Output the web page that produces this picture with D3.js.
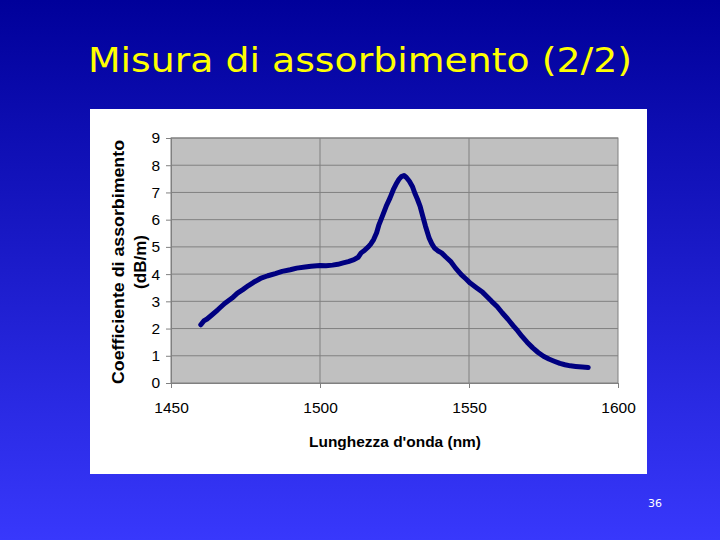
<!DOCTYPE html>
<html><head><meta charset="utf-8">
<script src="https://cdn.jsdelivr.net/npm/d3@7"></script>
<style>html,body{margin:0;padding:0;overflow:hidden;}svg{display:block;}</style>
</head><body>
<svg id="c" width="720" height="540"></svg>
<script>
const wavelength = [1460.0,1461.0,1462.1,1463.5,1465.7,1468.0,1470.5,1472.3,1474.1,1476.0,1477.7,1480.0,1482.5,1485.0,1487.3,1490.0,1492.2,1495.0,1497.0,1500.0,1502.0,1504.2,1506.0,1507.8,1509.5,1511.4,1512.8,1513.8,1515.0,1516.2,1517.0,1518.0,1519.0,1519.8,1521.0,1522.2,1523.5,1524.6,1525.5,1526.4,1527.3,1528.2,1529.0,1530.0,1531.0,1531.8,1532.7,1533.6,1534.5,1535.4,1536.0,1536.6,1537.5,1538.4,1539.5,1540.8,1542.3,1543.8,1545.5,1547.4,1549.0,1550.4,1552.5,1554.6,1556.0,1557.6,1559.5,1561.2,1563.0,1564.8,1566.3,1567.8,1569.5,1571.4,1573.2,1575.0,1576.8,1578.6,1580.5,1582.2,1584.0,1585.8,1588.0,1590.0];
const absorption = [2.14,2.28,2.35,2.48,2.69,2.92,3.12,3.30,3.43,3.58,3.70,3.84,3.94,4.02,4.10,4.16,4.22,4.26,4.29,4.32,4.31,4.33,4.36,4.41,4.46,4.53,4.62,4.78,4.88,5.00,5.10,5.27,5.52,5.82,6.15,6.49,6.80,7.10,7.30,7.47,7.58,7.62,7.55,7.41,7.22,6.98,6.75,6.49,6.12,5.76,5.55,5.33,5.12,4.96,4.86,4.78,4.62,4.47,4.22,3.98,3.82,3.67,3.50,3.33,3.18,3.00,2.80,2.57,2.35,2.11,1.92,1.71,1.50,1.29,1.12,0.98,0.88,0.80,0.72,0.67,0.63,0.61,0.59,0.57];
const xTicks = [1450,1500,1550,1600];
const yTicks = [0,1,2,3,4,5,6,7,8,9];
const title = "Misura di assorbimento (2/2)";
const xTitle = "Lunghezza d'onda (nm)";
const yTitle = ["Coefficiente di assorbimento","(dB/m)"];
const pageNo = "36";

const svg = d3.select("#c");
const defs = svg.append("defs");
const g = defs.append("linearGradient").attr("id","bg").attr("x1",0).attr("y1",0).attr("x2",0).attr("y2",1);
g.append("stop").attr("offset","0%").attr("stop-color","#00009a");
g.append("stop").attr("offset","100%").attr("stop-color","#3838fc");
svg.append("rect").attr("width",720).attr("height",540).attr("fill","url(#bg)");

svg.append("text").attr("x",360).attr("y",72).attr("text-anchor","middle")
  .attr("fill","#ffff00").attr("font-family","'Comic Sans MS','DejaVu Sans',sans-serif")
  .attr("font-size",34).attr("textLength",544).attr("lengthAdjust","spacingAndGlyphs").text(title);

svg.append("text").attr("x",655).attr("y",507).attr("text-anchor","middle")
  .attr("fill","#ffffff").attr("font-family","'DejaVu Sans',sans-serif").attr("font-size",11).text(pageNo);

// white panel
svg.append("rect").attr("x",90).attr("y",109).attr("width",557).attr("height",365).attr("fill","#ffffff");

const L=171, R=618, T=138, B=383;
const x = d3.scaleLinear().domain([1450,1600]).range([L,R]);
const y = d3.scaleLinear().domain([0,9]).range([B,T]);

svg.append("rect").attr("x",L).attr("y",T).attr("width",R-L).attr("height",B-T)
  .attr("fill","#c0c0c0").attr("stroke","#808080").attr("stroke-width",1);

svg.append("g").selectAll("line").data(yTicks.slice(1)).join("line")
  .attr("x1",L).attr("x2",R).attr("y1",d=>y(d)).attr("y2",d=>y(d))
  .attr("stroke","#808080").attr("stroke-width",1);
svg.append("g").selectAll("line").data(xTicks.slice(1,-1)).join("line")
  .attr("y1",T).attr("y2",B).attr("x1",d=>x(d)).attr("x2",d=>x(d))
  .attr("stroke","#808080").attr("stroke-width",1);

const yAxis = svg.append("g").attr("transform",`translate(${L},0)`)
  .call(d3.axisLeft(y).tickValues(yTicks).tickSize(5).tickPadding(6).tickFormat(d3.format("d")));
const xAxis = svg.append("g").attr("transform",`translate(0,${B})`)
  .call(d3.axisBottom(x).tickValues(xTicks).tickSize(5).tickPadding(14).tickFormat(d3.format("d")));
[yAxis,xAxis].forEach(a=>{
  a.select(".domain").attr("stroke","#808080");
  a.selectAll(".tick line").attr("stroke","#808080");
  a.selectAll("text").attr("font-family","Arial,'Liberation Sans',sans-serif").attr("font-size",15.5).attr("fill","#000");
});

const data = wavelength.map((w,i)=>[w,absorption[i]]);
svg.append("path").datum(data)
  .attr("d",d3.line().x(d=>x(d[0])).y(d=>y(d[1])))
  .attr("fill","none").attr("stroke","#000080").attr("stroke-width",5)
  .attr("stroke-linejoin","round").attr("stroke-linecap","round");

svg.append("text").attr("x",395).attr("y",447).attr("text-anchor","middle")
  .attr("font-family","Arial,'Liberation Sans',sans-serif").attr("font-weight","bold").attr("font-size",15.5)
  .attr("fill","#000").attr("textLength",172).attr("lengthAdjust","spacingAndGlyphs").text(xTitle);

const yt = svg.append("text").attr("transform","translate(124,262) rotate(-90)")
  .attr("text-anchor","middle").attr("font-family","Arial,'Liberation Sans',sans-serif")
  .attr("font-weight","bold").attr("font-size",17).attr("fill","#000");
yt.append("tspan").attr("x",0).attr("y",0).attr("textLength",244).attr("lengthAdjust","spacingAndGlyphs").text(yTitle[0]);
yt.append("tspan").attr("x",0).attr("y",22).text(yTitle[1]);
</script>
</body></html>
